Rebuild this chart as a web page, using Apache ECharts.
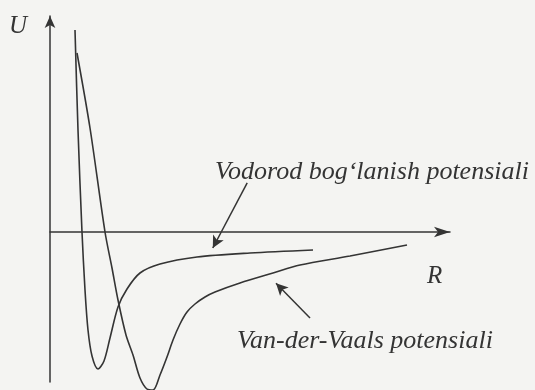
<!DOCTYPE html>
<html>
<head>
<meta charset="utf-8">
<script src="https://cdn.jsdelivr.net/npm/echarts@6/dist/echarts.min.js"></script>
<style>
  html, body { margin: 0; padding: 0; background: #f4f4f2; }
  #chart { width: 535px; height: 390px; }
</style>
</head>
<body>
<div id="chart"></div>
<script>
// Interaction potential U(R): hydrogen bond vs. Van der Waals
const hydrogenR = [0.625, 0.70, 0.80, 0.875, 0.95, 1.05, 1.20, 1.35, 1.50, 1.70, 1.925, 2.25, 2.75, 3.675, 5.00, 6.575];
const hydrogenU = [5.05, 2.55, 0.00, -1.45, -2.45, -3.10, -3.425, -3.225, -2.65, -1.875, -1.425, -1.025, -0.80, -0.625, -0.525, -0.45];

const vdwR = [0.675, 1.00, 1.375, 1.55, 1.70, 1.90, 2.075, 2.25, 2.425, 2.575, 2.75, 2.925, 3.075, 3.25, 3.425, 3.625, 3.875, 4.125, 4.75, 5.575, 6.25, 7.50, 8.925];
const vdwU = [4.475, 2.60, 0.00, -0.90, -1.70, -2.575, -3.075, -3.65, -3.925, -3.95, -3.575, -3.125, -2.70, -2.30, -2.00, -1.80, -1.625, -1.50, -1.275, -1.025, -0.825, -0.60, -0.325];

const labelHydrogen = "Vodorod bog\u2018lanish potensiali";
const labelVdw = "Van-der-Vaals potensiali";

// pointer arrows: [from, to] in (R, U)
const hydrogenPointer = [[4.93, 1.23], [4.07, -0.40]];
const vdwPointer = [[6.50, -2.15], [5.65, -1.28]];

const ink = '#343434';
const serif = '"Liberation Serif", "DejaVu Serif", serif';

const zip = (xs, ys) => xs.map((x, i) => [x, ys[i]]);

function pointer(p) {
  return {
    silent: true,
    symbol: ['none', 'arrow'],
    symbolSize: [9, 12],
    label: { show: false },
    lineStyle: { color: ink, width: 1.5, type: 'solid' },
    data: [[{ coord: p[0] }, { coord: p[1] }]]
  };
}

const curve = (r, u, p) => ({
  type: 'line', data: zip(r, u), smooth: 0.3, clip: false,
  showSymbol: false, lineStyle: { color: ink, width: 1.6 },
  markLine: pointer(p)
});

const chart = echarts.init(document.getElementById('chart'), null, { renderer: 'canvas' });
chart.setOption({
  animation: false,
  backgroundColor: '#f4f4f2',
  grid: { left: 50, right: 85, top: 16, bottom: 8 },
  xAxis: {
    type: 'value', min: 0, max: 10,
    axisLine: { show: true, onZero: true, symbol: ['none', 'arrow'], symbolSize: [8, 16], lineStyle: { color: ink, width: 1.5 } },
    axisTick: { show: false }, axisLabel: { show: false }, splitLine: { show: false }
  },
  yAxis: {
    type: 'value', min: -3.75, max: 5.4,
    axisLine: { show: true, onZero: true, symbol: ['none', 'arrow'], symbolSize: [8, 12], lineStyle: { color: ink, width: 1.5 } },
    axisTick: { show: false }, axisLabel: { show: false }, splitLine: { show: false }
  },
  series: [
    curve(hydrogenR, hydrogenU, hydrogenPointer),
    curve(vdwR, vdwU, vdwPointer)
  ],
  graphic: [
    { type: 'text', left: 9, top: 14, style: { text: 'U', font: 'italic 25px ' + serif, fill: ink } },
    { type: 'text', left: 427, top: 264, style: { text: 'R', font: 'italic 25px ' + serif, fill: ink } },
    { type: 'text', left: 215, top: 159, style: { text: labelHydrogen, font: 'italic 26px ' + serif, fill: ink } },
    { type: 'text', left: 237, top: 328, style: { text: labelVdw, font: 'italic 26px ' + serif, fill: ink } }
  ]
});
</script>
</body>
</html>
